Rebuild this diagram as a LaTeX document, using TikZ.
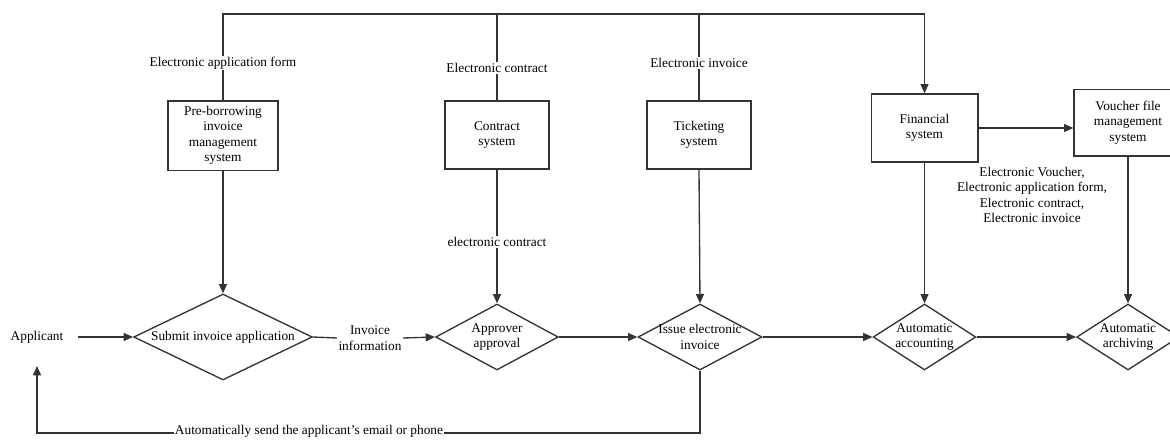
\documentclass[tikz,border=0pt]{standalone}
\usepackage{fontspec}
\setmainfont{Liberation Serif}
\usetikzlibrary{shapes.geometric,arrows.meta}
\definecolor{ink}{HTML}{333333}
\begin{document}
\begin{tikzpicture}[x=0.75pt,y=-0.75pt,font=\fontsize{10}{11.6}\selectfont,
    box/.style={draw=ink,line width=1pt,align=center,inner sep=0pt},
    dia/.style={diamond,draw=ink,line width=1pt,align=center,inner sep=0pt,
      inner ysep=-4pt,aspect=1.9},
    lab/.style={fill=white,align=center,inner sep=1pt},
    ln/.style={draw=ink,line width=1pt},
    arr/.style={ln,-{Triangle[length=7pt,width=6pt]}}]
      \useasboundingbox (0,0) rectangle (1170,439);
      % systems
      \node[box,minimum width=82.5pt,minimum height=52pt] (pre) at (223,135.5)
        {Pre-borrowing\\invoice\\management\\system};
      \node[box,minimum width=78pt,minimum height=51pt] (con) at (497,135)
        {Contract\\system};
      \node[box,minimum width=78pt,minimum height=51pt] (tic) at (699,135)
        {Ticketing\\system};
      \node[box,minimum width=80pt,minimum height=51pt] (fin) at (924.5,128)
        {Financial\\system};
      \node[box,minimum width=81pt,minimum height=50pt] (vou) at (1128,122.5)
        {Voucher file\\management\\system};
      % process
      \node[inner xsep=10.5pt,inner ysep=17pt] (app) at (37,337) {Applicant};
      \node[dia,aspect=2.08,minimum width=134pt,minimum height=64.5pt] (sub) at (223,337)
        {Submit invoice application};
      \node[lab] (inf) at (370,338) {Invoice\\information};
      \node[dia,minimum width=92pt,minimum height=49.5pt] (apr) at (497,337)
        {Approver\\approval};
      \node[dia,minimum width=93pt,minimum height=49.5pt] (iss) at (700,337)
        {Issue electronic\\invoice};
      \node[dia,aspect=1.56,minimum width=77pt,minimum height=49.5pt] (acc) at (924.5,337)
        {Automatic\\accounting};
      \node[dia,aspect=1.56,minimum width=77pt,minimum height=49.5pt] (arc) at (1128,337)
        {Automatic\\archiving};
      % top bus
      \coordinate (busL) at (223,14);
      \coordinate (busR) at (924.5,14);
      \draw[arr] (pre.north) -- (busL) -- (busR) -- (fin.north);
      \draw[ln] (con.north) -- (con.north |- busL);
      \draw[ln] (tic.north) -- (tic.north |- busL);
      \node[lab] (fm) at (223,63) {Electronic application form};
      \node[lab] (ct) at (497,68) {Electronic contract};
      \node[lab] (iv) at (699,63) {Electronic invoice};
      % down to the process
      \draw[arr] (pre.south) -- (sub.north);
      \draw[arr] (con.south) -- (apr.north);
      \draw[arr] (tic.south) -- (iss.north);
      \draw[arr] (fin.south) -- (acc.north);
      \draw[arr] (vou.south) -- (arc.north);
      \draw[arr] (fin.east) -- (fin.east -| vou.west);
      \node[lab] (ec) at (497,242) {electronic contract};
      \node[align=center,inner sep=1pt] (note) at (1032,195)
        {Electronic Voucher,\\Electronic application form,\\Electronic contract,\\Electronic invoice};
      % main flow
      \draw[arr] (app.east) -- (sub.west);
      \draw[ln] (sub.east) -- (inf.west);
      \draw[arr] (inf.east) -- (apr.west);
      \draw[arr] (apr.east) -- (iss.west);
      \draw[arr] (iss.east) -- (acc.west);
      \draw[arr] (acc.east) -- (arc.west);
      % feedback
      \coordinate (fbR) at (700,433);
      \coordinate (fbL) at (37,433);
      \draw[arr] (iss.south) -- (fbR) -- (fbL) -- (app.south);
      \node[lab,inner ysep=0pt] (mail) at (309,431.5) {Automatically send the applicant's email or phone};
    \end{tikzpicture}
\end{document}
